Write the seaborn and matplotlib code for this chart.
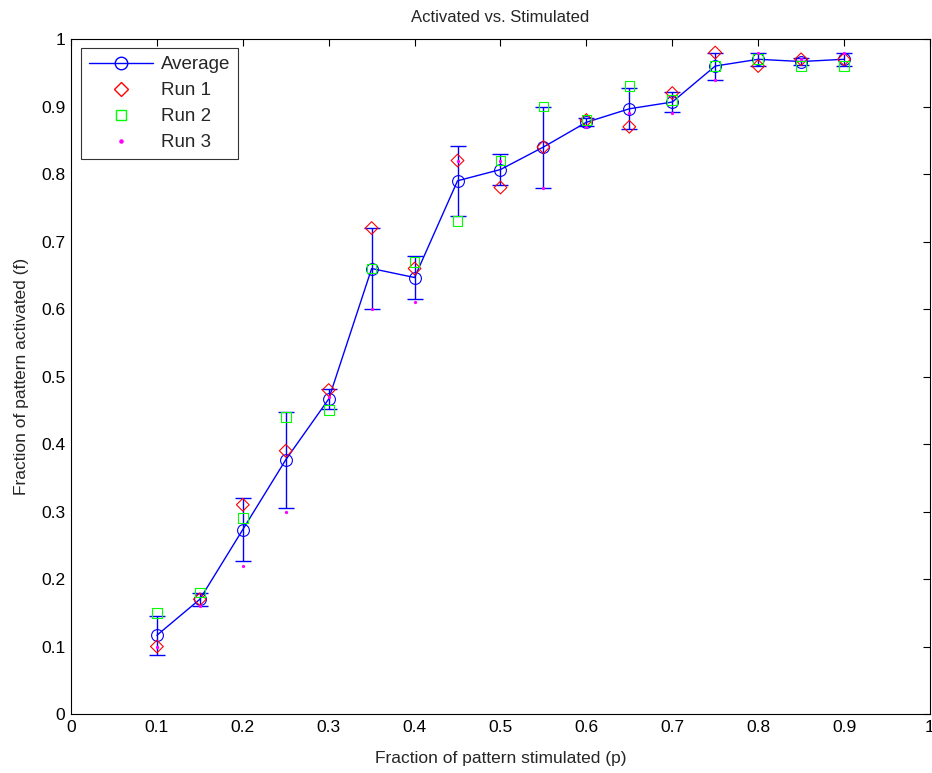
import numpy as np
import pandas as pd
import matplotlib
matplotlib.use("Agg")
import matplotlib.pyplot as plt
import seaborn as sns
from matplotlib.lines import Line2D

p = [0.10, 0.15, 0.20, 0.25, 0.30, 0.35, 0.40, 0.45, 0.50,
     0.55, 0.60, 0.65, 0.70, 0.75, 0.80, 0.85, 0.90]
run1 = [0.10, 0.17, 0.31, 0.39, 0.48, 0.72, 0.66, 0.82, 0.78,
        0.84, 0.88, 0.87, 0.92, 0.98, 0.96, 0.97, 0.97]
run2 = [0.15, 0.18, 0.29, 0.44, 0.45, 0.66, 0.67, 0.73, 0.82,
        0.90, 0.88, 0.93, 0.91, 0.96, 0.97, 0.96, 0.96]
run3 = [0.10, 0.16, 0.22, 0.30, 0.47, 0.60, 0.61, 0.82, 0.82,
        0.78, 0.87, 0.89, 0.89, 0.94, 0.98, 0.97, 0.98]
xticks = [0, 0.1, 0.2, 0.3, 0.4, 0.5, 0.6, 0.7, 0.8, 0.9, 1]
yticks = [0, 0.1, 0.2, 0.3, 0.4, 0.5, 0.6, 0.7, 0.8, 0.9, 1]

runs = np.array([run1, run2, run3])
avg = runs.mean(axis=0)
sd = runs.std(axis=0, ddof=1)

df = pd.DataFrame({"p": p, "avg": avg, "sd": sd,
                   "run1": run1, "run2": run2, "run3": run3})

sns.set_theme(style="white")
plt.rcParams["font.family"] = ["Liberation Sans", "DejaVu Sans"]
plt.rcParams["font.size"] = 10

fig = plt.figure(figsize=(9.32, 7.73), dpi=100)
ax = fig.add_axes([0.0762, 0.0763, 0.9216, 0.8732])

BLUE = (0, 0, 1)
RED = (1, 0, 0)
GREEN = (0, 1, 0)
MAG = (1, 0, 1)

ax.errorbar(df["p"], df["avg"], yerr=df["sd"], fmt="none", ecolor=BLUE,
            elinewidth=1.0, capsize=5.5, capthick=1.0, zorder=2)
sns.lineplot(data=df, x="p", y="avg", ax=ax, color=BLUE, linewidth=1.0,
             marker="o", markersize=8.5, markerfacecolor="none",
             markeredgecolor=BLUE, markeredgewidth=0.8, zorder=3)
sns.scatterplot(data=df, x="p", y="run1", ax=ax, marker="D", s=42,
                facecolor="none", edgecolor=RED, linewidth=0.8, zorder=4)
sns.scatterplot(data=df, x="p", y="run2", ax=ax, marker="s", s=48,
                facecolor="none", edgecolor=GREEN, linewidth=0.8, zorder=4)
sns.scatterplot(data=df, x="p", y="run3", ax=ax, marker=".", s=22,
                color=MAG, edgecolor=MAG, linewidth=0, zorder=5)

ax.set_xlim(0, 1)
ax.set_ylim(0, 1)
ax.set_xticks(xticks)
ax.set_yticks(yticks)
ax.set_xticklabels([f"{t:g}" for t in xticks])
ax.set_yticklabels([f"{t:g}" for t in yticks])
ax.tick_params(direction="in", length=5, width=0.8, top=True, right=True,
               labelsize=12.5, colors="black", pad=4)
for s in ax.spines.values():
    s.set_color("black")
    s.set_linewidth(0.8)
    s.set_visible(True)

ax.set_xlabel("Fraction of pattern stimulated (p)", fontsize=12.5, labelpad=12)
ax.set_ylabel("Fraction of pattern activated (f)", fontsize=12.5, labelpad=8.5)
ax.set_title("Activated vs. Stimulated", fontsize=12, pad=12)

handles = [
    Line2D([], [], color=BLUE, lw=1.0, marker="o", markersize=9,
           markerfacecolor="none", markeredgecolor=BLUE),
    Line2D([], [], color=RED, lw=0, marker="D", markersize=7,
           markerfacecolor="none", markeredgecolor=RED),
    Line2D([], [], color=GREEN, lw=0, marker="s", markersize=7.5,
           markerfacecolor="none", markeredgecolor=GREEN),
    Line2D([], [], color=MAG, lw=0, marker=".", markersize=4.5),
]
leg = ax.legend(handles, ["Average", "Run 1", "Run 2", "Run 3"],
                loc="upper left", bbox_to_anchor=(0.012, 0.986),
                fontsize=13.5, frameon=True, fancybox=False, handlelength=3.4,
                borderpad=0.4, labelspacing=0.48, handletextpad=0.45,
                borderaxespad=0)
leg.get_frame().set_edgecolor("black")
leg.get_frame().set_linewidth(0.8)

fig.savefig("out.png", dpi=100, facecolor="white")
